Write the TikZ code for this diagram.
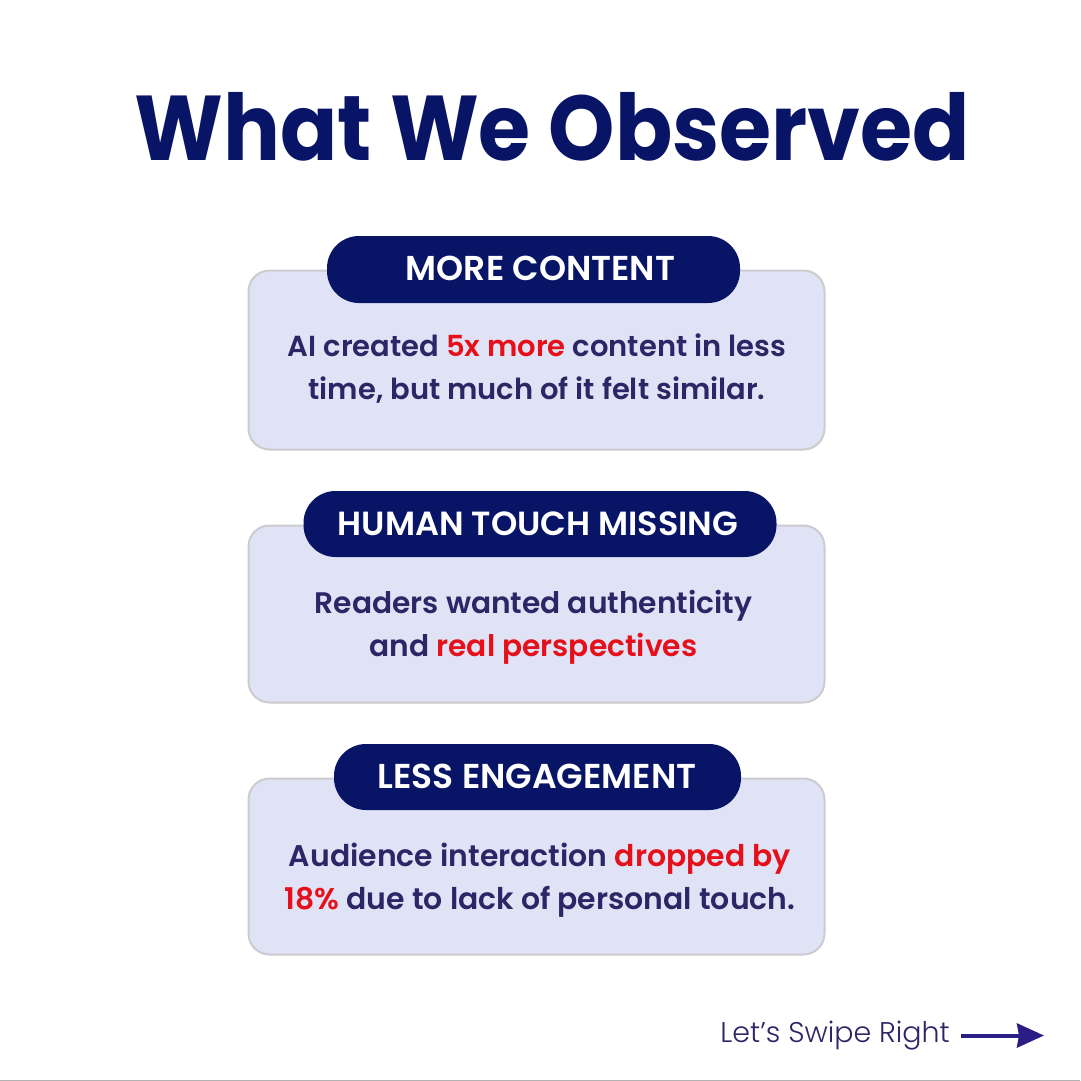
\documentclass[tikz,border=0pt]{standalone}
\usepackage{fontspec}
\usepackage{graphicx}
\setmainfont{Poppins}
\newfontfamily\titlefont{Poppins}[UprightFont=* Bold]
\newfontfamily\bodyfont{Poppins}[UprightFont=* SemiBold]
\newfontfamily\lightfont{Poppins}[UprightFont=* Light]
\usetikzlibrary{arrows.meta}
\definecolor{navy}{HTML}{081567}
\definecolor{panelfill}{HTML}{E0E3F6}
\definecolor{panelline}{HTML}{CCCCD0}
\definecolor{bodyink}{HTML}{2C2566}
\definecolor{hot}{HTML}{E5101A}
\definecolor{swipe}{HTML}{2A1E85}
\tikzset{
  panel/.style={draw=panelline,line width=2pt,fill=panelfill,rounded corners=21pt,minimum width=576pt,anchor=north west,inner sep=0pt},
  pill/.style={fill=navy,rounded corners=32pt,inner sep=0pt},
  headtext/.style={text=white,inner sep=0pt},
  bodytext/.style={text=bodyink,align=center,inner sep=0pt},
}
\newcommand{\hl}[1]{\textcolor{hot}{#1}}
\begin{document}
\begin{tikzpicture}[x=1pt,y=-1pt]
\useasboundingbox (0,0) rectangle (1080,1081);
\fill[white] (0,0) rectangle (1080,1081);
\fill[black!30] (0,1079.5) rectangle (1080,1081);
\node[text=navy,font=\titlefont\fontsize{92}{100}\selectfont,inner sep=0pt] (title) at (552.5,127) {\scalebox{0.918}[1]{What We Observed}};

\node[panel,minimum height=179pt] (p1) at (247.5,269.5) {};
\node[pill,minimum width=413pt,minimum height=67pt] (h1) at (533.5,269.5) {};
\node[headtext,font=\bodyfont\fontsize{34.5}{40}\selectfont] (h1t) at (540.5,268) {MORE CONTENT};
\node[bodytext,font=\bodyfont\fontsize{29}{43}\selectfont] (b1) at (537,369) {AI created \hl{5x more} content in less\\time, but much of it felt similar.};

\node[panel,minimum height=177pt] (p2) at (247.5,524.5) {};
\node[pill,minimum width=473pt,minimum height=66pt] (h2) at (540,524) {};
\node[headtext,font=\bodyfont\fontsize{33.5}{40}\selectfont] (h2t) at (538,524) {HUMAN TOUCH MISSING};
\node[bodytext,font=\bodyfont\fontsize{29.7}{43}\selectfont] (b2) at (533.5,627) {Readers wanted authenticity\\and \hl{real perspectives}};

\node[panel,minimum height=176pt] (p3) at (247.5,777.5) {};
\node[pill,minimum width=407pt,minimum height=66pt] (h3) at (537.5,777) {};
\node[headtext,font=\bodyfont\fontsize{34.5}{40}\selectfont] (h3t) at (537,776) {LESS ENGAGEMENT};
\node[bodytext,font=\bodyfont\fontsize{29.9}{43}\selectfont] (b3) at (540,880) {Audience interaction \hl{dropped by}\\\hl{18\%} due to lack of personal touch.};

\node[text=bodyink,font=\lightfont\fontsize{28.5}{34}\selectfont,inner sep=0pt,anchor=east] (swipe) at (950,1035.5) {Let’s Swipe Right};
\coordinate (a1) at (961,1035.5);
\coordinate (a2) at (1044,1035.5);
\draw[swipe,line width=4pt,-{Stealth[length=27pt,width=24pt,inset=2pt]}] (a1) -- (a2);
\end{tikzpicture}
\end{document}
